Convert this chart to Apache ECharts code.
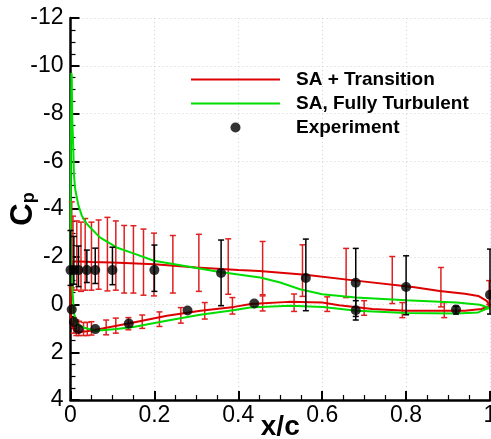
<!DOCTYPE html>
<html>
<head>
<meta charset="utf-8">
<script src="https://cdn.jsdelivr.net/npm/echarts@6/dist/echarts.min.js"></script>
<style>html,body{margin:0;padding:0;background:#fff}#c{width:491px;height:439px}</style>
</head>
<body>
<div id="c"></div>
<script>
// SA + Transition (closed loop: TE upper -> LE -> TE lower)
var redX = [1.0, 0.992, 0.972, 0.94, 0.88, 0.82, 0.8, 0.68, 0.56, 0.45, 0.4, 0.3, 0.2, 0.1, 0.05, 0.02, 0.01, 0.005, 0.002, 0.0008, 0, 0.001, 0.003, 0.006, 0.01, 0.02, 0.04, 0.07, 0.15, 0.23, 0.31, 0.39, 0.43, 0.45, 0.52, 0.6, 0.64, 0.72, 0.8, 0.88, 0.94, 0.98, 1.0];
var redY = [0.05, -0.15, -0.36, -0.45, -0.57, -0.72, -0.76, -1.0, -1.25, -1.4, -1.44, -1.55, -1.69, -1.76, -1.78, -1.8, -1.8, -1.8, -1.6, -1.0, 0.0, 0.6, 0.85, 1.0, 1.1, 1.15, 1.12, 1.03, 0.75, 0.47, 0.26, 0.1, -0.02, -0.04, -0.11, -0.08, 0.03, 0.19, 0.26, 0.26, 0.26, 0.19, 0.05];
// SA, Fully Turbulent
var greenX = [1.0, 0.996, 0.976, 0.92, 0.8, 0.68, 0.6, 0.547, 0.5, 0.452, 0.404, 0.349, 0.269, 0.199, 0.15, 0.11, 0.07, 0.039, 0.027, 0.019, 0.011, 0.008, 0.007, 0.004, 0.003, 0.002, 0.001, 0.0003, 0.002, 0.005, 0.008, 0.012, 0.02, 0.031, 0.059, 0.11, 0.15, 0.229, 0.309, 0.388, 0.428, 0.452, 0.523, 0.602, 0.682, 0.801, 0.92, 0.972, 0.99, 1.0];
var greenY = [0.15, 0.15, 0.01, -0.08, -0.18, -0.29, -0.43, -0.64, -0.92, -1.13, -1.25, -1.38, -1.62, -1.83, -2.14, -2.39, -2.81, -3.37, -3.72, -4.14, -4.85, -5.5, -6.3, -7.9, -9.6, -9.7, -7.0, -3.0, -1.5, -0.5, 0.3, 0.7, 0.88, 0.96, 1.1, 1.03, 0.94, 0.68, 0.43, 0.24, 0.13, 0.1, 0.05, 0.1, 0.26, 0.36, 0.38, 0.33, 0.19, 0.15];
// Experiment
var expX = [0, 0.008, 0.019, 0.039, 0.059, 0.1, 0.2, 0.359, 0.561, 0.68, 0.8, 1.0, 0.003, 0.008, 0.019, 0.059, 0.139, 0.279, 0.438, 0.68, 0.919];
var expY = [-1.44, -1.44, -1.44, -1.44, -1.44, -1.44, -1.44, -1.32, -1.11, -0.91, -0.73, -0.41, 0.21, 0.73, 1.03, 1.03, 0.8, 0.25, -0.04, 0.24, 0.21];
// Experiment error bars
var expErrX = [0, 0.008, 0.019, 0.039, 0.059, 0.1, 0.2, 0.359, 0.561, 0.68, 0.8, 1.0, 0.68, 0.919];
var expErrLow = [-3.1, -2.85, -2.45, -2.28, -2.36, -2.4, -2.49, -2.7, -2.74, -2.35, -2.04, -2.32, -0.16, 0.07];
var expErrHigh = [-0.8, -0.85, -0.75, -0.92, -0.88, -0.83, -0.55, 0.05, 0.26, 0.5, 0.43, 0.4, 0.65, 0.4];
// SA + Transition error bars
var cfdErrX = [0.003, 0.006, 0.015, 0.025, 0.035, 0.05, 0.067, 0.088, 0.108, 0.128, 0.15, 0.174, 0.199, 0.244, 0.306, 0.376, 0.458, 0.553, 0.657, 0.767, 0.883, 0.998,
               0.008, 0.014, 0.02, 0.031, 0.04, 0.05, 0.085, 0.108, 0.138, 0.171, 0.212, 0.263, 0.32, 0.386, 0.458, 0.533, 0.612, 0.7, 0.791, 0.891];
var cfdErrLow = [-4.3, -3.7, -3.5, -3.45, -3.6, -3.45, -3.54, -3.65, -3.5, -3.31, -3.3, -3.16, -2.99, -2.89, -2.94, -2.75, -2.64, -2.5, -2.35, -2.01, -1.55, -1.0,
                 0.55, 0.65, 0.7, 0.75, 0.75, 0.72, 0.65, 0.57, 0.55, 0.44, 0.31, 0.13, -0.08, -0.29, -0.36, -0.44, -0.32, -0.16, -0.08, -0.08];
var cfdErrHigh = [-0.7, -0.6, -0.6, -0.55, -0.6, -0.6, -0.64, -0.57, -0.6, -0.48, -0.48, -0.39, -0.36, -0.48, -0.55, -0.43, -0.41, -0.34, -0.29, -0.04, 0.1, 0.0,
                  1.2, 1.3, 1.3, 1.3, 1.3, 1.28, 1.27, 1.2, 1.06, 1.0, 0.92, 0.78, 0.61, 0.4, 0.27, 0.29, 0.29, 0.45, 0.55, 0.55];
var xTicks = [0, 0.2, 0.4, 0.6, 0.8, 1];
var yTicks = [-12, -10, -8, -6, -4, -2, 0, 2, 4];

function zip(a, b) { return a.map(function (v, i) { return [v, b[i]]; }); }
function zip3(a, b, c) { return a.map(function (v, i) { return [v, b[i], c[i]]; }); }
function errRender(color, lw, cap) {
  return function (params, api) {
    var x = api.value(0), lo = api.value(1), hi = api.value(2);
    var p1 = api.coord([x, lo]), p2 = api.coord([x, hi]);
    var st = { stroke: color, lineWidth: lw };
    return { type: 'group', children: [
      { type: 'line', shape: { x1: p1[0], y1: p1[1], x2: p2[0], y2: p2[1] }, style: st },
      { type: 'line', shape: { x1: p1[0] - cap, y1: p1[1], x2: p1[0] + cap, y2: p1[1] }, style: st },
      { type: 'line', shape: { x1: p2[0] - cap, y1: p2[1], x2: p2[0] + cap, y2: p2[1] }, style: st }
    ] };
  };
}
var FONT = 'Liberation Sans';
var chart = echarts.init(document.getElementById('c'), null, { renderer: 'canvas' });
var axisCommon = {
  axisLine: { show: true, onZero: false, lineStyle: { color: '#000', width: 2.5 } },
  axisTick: { show: true, inside: true, length: 9, lineStyle: { color: '#000', width: 2 } },
  minorTick: { show: true, splitNumber: 4, length: 5, lineStyle: { color: '#000', width: 1.2 } },
  splitLine: { show: true, lineStyle: { color: '#d0d0d0', type: [1, 3], width: 1 } },
  axisLabel: { color: '#000', fontSize: 23, fontFamily: FONT }
};
chart.setOption({
  animation: false,
  grid: { left: 70.5, right: 1, top: 18, bottom: 39, containLabel: false, outerBoundsMode: 'none' },
  legend: {
    orient: 'vertical', left: 190, top: 70, padding: 0, itemGap: 5,
    itemWidth: 89, itemHeight: 10,
    textStyle: { fontSize: 19, fontWeight: 'bold', fontFamily: FONT, color: '#000', padding: [0, 0, 0, 11] },
    data: [
      { name: 'SA + Transition', itemStyle: { opacity: 0 } },
      { name: 'SA, Fully Turbulent', itemStyle: { opacity: 0 } },
      { name: 'Experiment' }
    ]
  },
  xAxis: Object.assign({}, axisCommon, {
    type: 'value', min: xTicks[0], max: xTicks[xTicks.length - 1], interval: 0.2,
    axisLabel: Object.assign({}, axisCommon.axisLabel, { margin: 4 }),
    name: 'x/c', nameLocation: 'middle', nameGap: 13, nameMoveOverlap: false,
    nameTextStyle: { fontSize: 28, fontWeight: 'bold', fontFamily: FONT, color: '#000' }
  }),
  yAxis: Object.assign({}, axisCommon, {
    type: 'value', inverse: true, min: yTicks[0], max: yTicks[yTicks.length - 1], interval: 2,
    axisLabel: Object.assign({}, axisCommon.axisLabel, { margin: 7 }),
    name: '{c|C}{p|p}', nameLocation: 'middle', nameGap: 32, nameMoveOverlap: false,
    nameTextStyle: { fontFamily: FONT, color: '#000', rich: {
      c: { fontSize: 31, fontWeight: 'bold', fontFamily: FONT, color: '#000' },
      p: { fontSize: 18, fontWeight: 'bold', fontFamily: FONT, color: '#000', verticalAlign: 'bottom', lineHeight: 14 }
    } }
  }),
  series: [
    { type: 'custom', name: 'cfdErr', renderItem: errRender('#e02020', 1.5, 3), data: zip3(cfdErrX, cfdErrLow, cfdErrHigh), encode: { x: 0, y: [1, 2] }, z: 1, silent: true },
    { type: 'line', name: 'SA + Transition', data: zip(redX, redY), showSymbol: false, symbol: 'none', lineStyle: { color: '#dd0000', width: 2 }, itemStyle: { color: '#dd0000' }, z: 2 },
    { type: 'line', name: 'SA, Fully Turbulent', data: zip(greenX, greenY), showSymbol: false, symbol: 'none', lineStyle: { color: '#00dd00', width: 2 }, itemStyle: { color: '#00dd00' }, z: 3 },
    { type: 'custom', name: 'expErr', renderItem: errRender('#000', 1.5, 3), data: zip3(expErrX, expErrLow, expErrHigh), encode: { x: 0, y: [1, 2] }, z: 4, silent: true },
    { type: 'scatter', name: 'Experiment', data: zip(expX, expY), symbol: 'circle', symbolSize: 10, itemStyle: { color: '#000' }, z: 5 }
  ]
});
</script>
</body>
</html>
